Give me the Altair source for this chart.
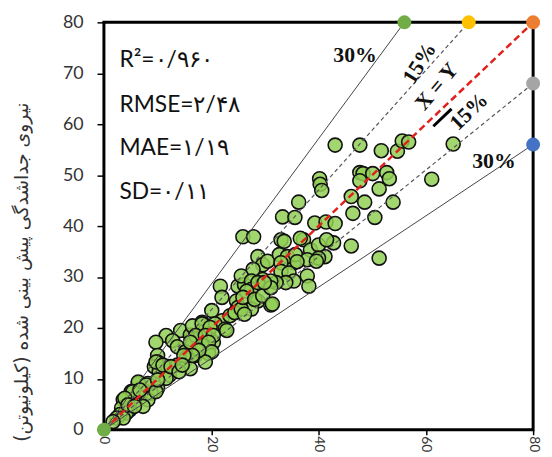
import altair as alt
import pandas as pd

# measured (x) vs predicted (y) separation force, kN
meas = [43.1,47.7,51.7,54.7,55.6,56.8,65.1,
        40.2,40.3,40.6,47.7,48.3,50.1,52.7,53.2,47.7,51.3,46.1,48.6,53.9,61.1,46.4,50.5,
        36.3,33.3,35.6,39.3,41.4,43.1,25.9,27.9,42.8,46.1,37.2,38.5,41.2,51.3,37.9,38.2,35.4,33.0,33.6,36.6,40.0,41.5,40.0,
        28.7,29.6,27.8,30.5,32.7,34.2,35.7,33.0,37.9,33.0,34.5,35.4,33.9,32.1,
        21.7,22.0,25.0,26.2,25.6,27.5,27.5,28.7,24.7,25.0,27.5,31.1,29.6,31.1,28.7,
        20.1,22.0,23.5,18.3,20.7,22.6,14.3,16.1,18.0,19.5,11.6,12.8,13.7,9.7,16.5,18.6,20.4,15.2,17.1,19.5,10.0,24.4,25.6,26.2,22.9,15.5,17.4,
        10.0,9.4,10.3,11.9,13.7,12.2,11.6,15.2,16.1,
        6.4,8.2,10.0,7.3,5.1,6.4,8.8,3.6,5.7,8.2,7.3,3.3,4.8,4.2,3.0,2.4,3.6,
        26.6,25.9,28.1,29.6,31.1,29.9,
        16.5,18.3,19.8,17.1,18.9,20.4,16.1,18.3,19.5,20.1,18.9,17.7,16.5,14.9,
        9.7,11.0,12.5,14.0,14.6,
        6.4,7.9,5.4,6.7,9.7,10.0,
        3.9,4.5,5.7,1.7,31.4,39.6,36.0]
pred = [55.9,55.9,54.8,54.7,56.7,56.5,56.1,
        49.3,48.2,47.0,50.5,50.3,50.3,50.5,49.3,48.9,47.3,45.8,44.7,44.7,49.2,42.5,41.7,
        44.7,41.8,41.7,40.6,40.8,40.5,37.9,37.9,36.7,36.1,37.3,35.3,34.0,33.7,30.2,28.2,32.8,37.3,37.0,37.6,36.3,37.3,33.7,
        34.0,32.4,31.5,33.1,34.4,34.0,34.4,32.8,33.4,31.1,30.8,29.2,28.9,28.9,
        28.2,26.0,28.2,28.5,30.2,29.2,27.6,25.3,25.3,24.0,23.7,24.5,29.5,29.2,28.9,
        23.4,21.4,22.4,21.1,20.8,19.8,19.5,18.6,19.2,18.8,18.5,17.5,16.3,17.2,16.9,16.6,17.2,15.3,14.6,15.0,14.6,23.0,23.7,22.7,19.5,14.3,15.9,
        13.3,12.4,11.4,12.4,12.7,10.7,10.1,13.7,12.0,
        9.1,9.1,8.2,7.8,7.5,7.2,7.2,5.9,5.2,5.9,4.6,4.3,3.9,3.3,3.0,2.3,2.3,
        27.2,26.0,25.6,26.3,27.9,28.9,
        20.4,20.8,20.1,18.5,18.5,18.5,17.2,16.6,17.2,15.3,13.3,15.6,14.6,14.6,
        13.3,12.7,12.4,11.4,12.7,
        9.4,8.8,7.5,7.8,7.5,9.8,
        6.2,4.9,4.6,1.6,24.7,33.1,33.0]

# error band lines (from origin)
band_x2 = [56, 68, 80, 80, 80]
band_y2 = [80, 80, 80, 68, 56]
band_kind = ["solid", "dash", "xy", "dash", "solid"]

# coloured end markers
dot_x = [56, 68, 80, 80, 80, 0]
dot_y = [80, 80, 80, 68, 56, 0]
dot_col = ["#70ad47", "#ffc000", "#ed7d31", "#a5a5a5", "#4472c4", "#70ad47"]

# statistics text
stat_txt = ["R²=۰/۹۶۰", "RMSE=۲/۴۸", "MAE=۱/۱۹", "SD=۰/۱۱"]
stat_x = [2.9, 2.9, 2.9, 2.9]
stat_y = [72.6, 63.8, 55.4, 46.6]

# line labels
lab_txt = ["30%", "15%", "X = Y", "15%", "30%"]
lab_x = [46.8, 58.8, 62.0, 68.0, 72.7]
lab_y = [73.6, 72.0, 67.4, 62.5, 52.8]
lab_ang = [0, 302, 310, 316, 0]

ytitle = "\u200fنیروی جداشدگی پیش بینی شده (کیلونیوتن)\u200f"

pts = pd.DataFrame({"x": meas, "y": pred})
bands = pd.DataFrame({"x": [0]*5, "y": [0]*5, "x2": band_x2, "y2": band_y2, "k": band_kind})
dots = pd.DataFrame({"x": dot_x, "y": dot_y, "c": dot_col})
stats = pd.DataFrame({"x": stat_x, "y": stat_y, "t": stat_txt})
labs = pd.DataFrame({"x": lab_x, "y": lab_y, "t": lab_txt, "a": lab_ang})
mark_seg = pd.DataFrame({"x": [61.4], "y": [59.6], "x2": [64.8], "y2": [63.0]})

xs = alt.Scale(domain=[0, 80], nice=False, zero=False)
ys = alt.Scale(domain=[0, 80], nice=False, zero=False)
X = alt.X("x:Q", scale=xs, axis=alt.Axis(values=[0, 20, 40, 60, 80], labelAngle=90, title=None,
                                        labelFontSize=14, labelColor="#333", tickSize=5,
                                        labelPadding=1, grid=False, domain=False))
Y = alt.Y("y:Q", scale=ys, axis=alt.Axis(values=list(range(0, 81, 10)), title=ytitle,
                                        labelFontSize=18, labelColor="#333", tickSize=7,
                                        labelPadding=14, grid=False, domain=False,
                                        titleFontSize=19, titleFontWeight="normal",
                                        titleColor="#333", titleFont="DejaVu Sans",
                                        titleX=-83, titleY=252, titleBaseline="middle"))

scatter = alt.Chart(pts).mark_circle(size=200, color="#92cf55", fillOpacity=0.85,
                                     stroke="#111", strokeWidth=1.6, strokeOpacity=1).encode(x=X, y=Y)

solid = alt.Chart(bands[bands.k == "solid"]).mark_rule(color="#444", strokeWidth=1).encode(
    x=X, y=Y, x2="x2:Q", y2="y2:Q")
dash = alt.Chart(bands[bands.k == "dash"]).mark_rule(color="#555", strokeWidth=1.2, strokeDash=[4, 3]).encode(
    x=X, y=Y, x2="x2:Q", y2="y2:Q")
xy = alt.Chart(bands[bands.k == "xy"]).mark_rule(color="#e0221c", strokeWidth=2.5, strokeDash=[7, 4]).encode(
    x=X, y=Y, x2="x2:Q", y2="y2:Q")
seg = alt.Chart(mark_seg).mark_rule(color="black", strokeWidth=3).encode(x=X, y=Y, x2="x2:Q", y2="y2:Q")

enddots = alt.Chart(dots).mark_circle(size=200, opacity=1).encode(
    x=X, y=Y, color=alt.Color("c:N", scale=None))

stat_text = alt.Chart(stats).mark_text(align="left", baseline="middle", fontSize=23, font="Lato",
                                       color="#111").encode(x=X, y=Y, text="t:N")
lab_text = alt.Chart(labs).mark_text(align="center", baseline="middle", fontSize=22,
                                     font="Liberation Serif", fontWeight="bold", color="#111").encode(
    x=X, y=Y, text="t:N", angle=alt.Angle("a:Q", scale=None))

chart = alt.layer(scatter, solid, dash, xy, seg, enddots, stat_text, lab_text).properties(
    width=434, height=412,
    autosize=alt.AutoSizeParams(type="none"),
    padding={"left": 97, "top": 12, "right": 11, "bottom": 25},
).configure_view(stroke="black", strokeWidth=3).configure_axis(
    tickColor="black", tickWidth=1.5, labelFont="Lato")

chart.save("out.html", embed_options={"renderer": "svg", "actions": False})
